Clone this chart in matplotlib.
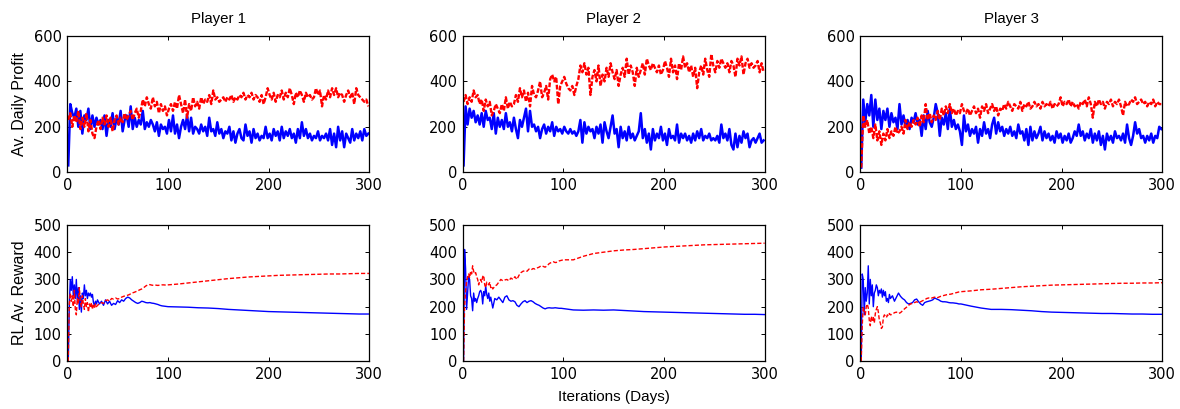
import numpy as np
import matplotlib
matplotlib.use("Agg")
import matplotlib.pyplot as plt

plt.rcParams['font.family'] = ['Liberation Sans', 'DejaVu Sans']
plt.rcParams['font.size'] = 10

# daily profit, sampled every other day
days = list(range(1, 300, 2))

profit_p1_solid = [30, 300, 260, 240, 280, 200, 270, 170, 250, 230, 280, 190, 250, 200, 240, 210, 230, 190, 250, 160,
                   230, 200, 260, 190, 240, 210, 270, 180, 230, 250, 200, 290, 190, 240, 200, 230, 210, 270, 190, 220,
                   200, 230, 210, 180, 220, 160, 210, 190, 200, 170, 230, 180, 250, 170, 210, 150, 200, 230, 190, 250,
                   180, 240, 170, 200, 190, 170, 210, 180, 200, 160, 240, 180, 190, 160, 220, 170, 190, 150, 180, 170,
                   200, 140, 180, 130, 170, 190, 150, 140, 210, 160, 180, 130, 190, 150, 170, 140, 160, 150, 200, 150,
                   170, 140, 190, 160, 180, 140, 200, 150, 180, 160, 190, 150, 170, 130, 190, 150, 220, 160, 190, 150,
                   170, 140, 160, 150, 180, 140, 160, 150, 170, 140, 190, 120, 170, 110, 200, 140, 180, 110, 170, 150,
                   130, 190, 140, 170, 150, 180, 140, 190, 160, 170]
profit_p1_dotted = [230, 260, 200, 250, 220, 270, 190, 240, 200, 260, 180, 230, 170, 150, 200, 230, 190, 240, 210, 250,
                    200, 240, 180, 230, 250, 210, 240, 220, 260, 230, 250, 270, 230, 260, 280, 240, 270, 320, 290, 330,
                    300, 280, 330, 290, 310, 260, 300, 270, 290, 250, 280, 300, 270, 310, 280, 340, 300, 260, 320, 240,
                    300, 270, 330, 290, 310, 280, 330, 300, 320, 310, 340, 300, 360, 320, 330, 310, 320, 330, 310, 330,
                    320, 340, 310, 330, 320, 340, 330, 350, 320, 340, 330, 350, 320, 340, 330, 310, 340, 300, 330, 370,
                    340, 320, 350, 310, 340, 330, 360, 320, 350, 330, 370, 340, 300, 350, 330, 360, 340, 310, 350, 330,
                    340, 320, 330, 370, 340, 360, 290, 340, 320, 360, 330, 370, 340, 370, 330, 350, 340, 310, 340, 360,
                    330, 350, 300, 370, 340, 330, 320, 310, 320, 290]

profit_p2_solid = [30, 290, 210, 280, 240, 270, 220, 250, 210, 260, 200, 270, 230, 240, 190, 260, 170, 240, 200, 230,
                   190, 260, 200, 220, 180, 240, 190, 150, 230, 200, 240, 280, 180, 270, 200, 210, 180, 200, 150, 190,
                   210, 170, 200, 180, 220, 160, 200, 180, 190, 170, 200, 180, 170, 190, 170, 180, 160, 180, 230, 130,
                   220, 170, 200, 180, 190, 150, 200, 170, 210, 130, 220, 180, 150, 200, 250, 170, 190, 110, 200, 150,
                   180, 140, 200, 150, 170, 140, 160, 180, 260, 150, 190, 130, 170, 100, 190, 140, 170, 150, 200, 140,
                   170, 120, 190, 150, 160, 140, 210, 130, 170, 150, 170, 140, 160, 130, 170, 140, 180, 150, 190, 140,
                   160, 150, 170, 140, 150, 140, 160, 130, 210, 150, 170, 140, 190, 120, 100, 170, 110, 160, 130, 180,
                   150, 170, 110, 140, 150, 130, 150, 170, 130, 140]
profit_p2_dotted = [310, 340, 300, 330, 310, 360, 330, 340, 300, 320, 270, 320, 290, 310, 250, 270, 300, 280, 260, 300,
                    270, 330, 280, 310, 290, 300, 340, 310, 370, 330, 360, 310, 350, 290, 380, 340, 330, 360, 400, 330,
                    350, 380, 320, 410, 430, 400, 420, 300, 380, 400, 420, 390, 370, 360, 380, 340, 380, 410, 470, 440,
                    480, 430, 460, 340, 420, 450, 400, 470, 380, 430, 400, 460, 420, 480, 440, 410, 450, 380, 430, 460,
                    420, 500, 430, 470, 440, 380, 460, 420, 450, 480, 430, 500, 470, 450, 480, 460, 440, 470, 430, 450,
                    490, 460, 420, 500, 440, 470, 410, 480, 450, 510, 460, 480, 440, 470, 420, 460, 370, 440, 470, 430,
                    500, 450, 420, 520, 470, 440, 490, 460, 500, 480, 460, 480, 440, 490, 470, 420, 500, 470, 510, 430,
                    480, 500, 460, 480, 460, 470, 490, 440, 480, 440]

profit_p3_solid = [20, 320, 220, 300, 250, 340, 200, 320, 230, 280, 190, 270, 230, 280, 200, 260, 220, 240, 190, 300,
                   210, 250, 200, 230, 190, 240, 220, 260, 210, 230, 160, 250, 190, 270, 220, 200, 240, 300, 260, 160,
                   240, 210, 260, 190, 280, 200, 230, 190, 210, 180, 120, 250, 180, 210, 160, 190, 170, 200, 130, 190,
                   160, 220, 170, 190, 150, 210, 240, 170, 220, 180, 200, 160, 190, 170, 200, 160, 180, 150, 210, 170,
                   180, 140, 190, 120, 200, 140, 180, 150, 170, 200, 140, 180, 150, 170, 140, 160, 130, 180, 150, 170,
                   130, 160, 140, 170, 130, 150, 180, 160, 210, 160, 180, 140, 170, 150, 190, 130, 170, 140, 180, 120,
                   160, 100, 170, 140, 160, 130, 180, 150, 160, 140, 170, 130, 210, 150, 120, 160, 220, 170, 190, 150,
                   160, 130, 160, 140, 170, 130, 160, 150, 200, 190]
profit_p3_dotted = [20, 250, 200, 230, 170, 200, 150, 210, 140, 180, 120, 170, 140, 190, 150, 180, 160, 200, 170, 180,
                    200, 170, 230, 190, 220, 200, 230, 210, 240, 200, 250, 220, 300, 230, 260, 220, 250, 230, 270, 230,
                    280, 250, 290, 260, 300, 260, 280, 250, 270, 260, 300, 270, 260, 280, 250, 270, 290, 260, 280, 240,
                    290, 270, 300, 260, 280, 300, 270, 290, 250, 280, 270, 300, 280, 310, 290, 270, 300, 290, 280, 310,
                    270, 300, 290, 310, 280, 290, 310, 290, 300, 280, 310, 290, 300, 290, 310, 280, 300, 290, 300, 330,
                    290, 310, 300, 320, 290, 310, 290, 300, 280, 310, 300, 320, 290, 330, 300, 240, 310, 290, 320, 300,
                    310, 280, 310, 300, 320, 290, 310, 300, 320, 290, 250, 310, 290, 300, 320, 310, 330, 300, 310, 320,
                    300, 310, 290, 310, 300, 320, 290, 310, 300, 300]

# running RL reward, denser at the start where it swings
reward_days = list(range(1, 31)) + list(range(32, 101, 2)) + list(range(110, 301, 10))

reward_p1_solid = [0, 200, 300, 260, 310, 240, 280, 230, 300, 220, 270, 190, 240, 180, 250, 230, 280, 240, 260, 230,
                   250, 240, 250, 235, 245, 215, 205, 220, 210, 225,
                   210, 220, 205, 225, 210, 220, 205, 212, 208, 222, 215, 225, 220, 230, 235, 232, 225, 220, 215, 212,
                   215, 220, 218, 215, 214, 215, 213, 212, 210, 208, 205, 203, 202, 201, 200,
                   199, 198, 196, 195, 193, 190, 188, 186, 184, 182, 181, 180, 179, 178, 177, 176, 175, 174, 173, 173]
reward_p1_dashed = [0, 210, 250, 220, 240, 200, 260, 190, 170, 230, 210, 270, 220, 200, 240, 210, 190, 230, 200, 215,
                    180, 210, 195, 215, 190, 205, 195, 210, 200, 205,
                    210, 215, 212, 222, 225, 220, 230, 228, 232, 228, 230, 235, 238, 240, 242, 245, 250, 252, 255, 258,
                    262, 265, 270, 276, 280, 281, 279, 278, 279, 278, 279, 280, 280, 279, 280,
                    283, 287, 291, 295, 299, 303, 306, 309, 311, 313, 315, 316, 317, 318, 319, 320, 320, 321, 322, 322]

reward_p2_solid = [0, 410, 340, 190, 250, 310, 300, 240, 230, 185, 250, 220, 230, 215, 230, 240, 255, 260, 250, 210,
                   255, 240, 275, 245, 230, 250, 220, 235, 215, 195,
                   230, 225, 235, 225, 215, 235, 240, 225, 220, 222, 218, 205, 200, 210, 218, 222, 215, 220, 222, 218,
                   212, 208, 205, 200, 195, 192, 195, 196, 195, 195, 196, 195, 194, 194, 193,
                   188, 187, 188, 187, 188, 186, 184, 182, 181, 180, 179, 178, 177, 176, 175, 174, 173, 172, 172, 171]
reward_p2_dashed = [0, 200, 260, 290, 310, 320, 305, 330, 320, 350, 330, 320, 325, 310, 300, 280, 295, 300, 290, 310,
                    315, 280, 270, 290, 285, 280, 290, 270, 275, 265,
                    275, 280, 290, 300, 295, 298, 300, 295, 305, 300, 310, 300, 315, 325, 330, 332, 330, 338, 335, 340,
                    338, 342, 345, 350, 348, 345, 350, 358, 362, 365, 362, 363, 368, 370, 372,
                    372, 385, 395, 400, 405, 408, 410, 413, 416, 419, 421, 423, 425, 427, 428, 429, 430, 431, 432, 433]

reward_p3_solid = [0, 320, 300, 170, 270, 220, 250, 350, 210, 300, 240, 280, 200, 250, 260, 280, 270, 240, 260, 250,
                   265, 235, 260, 240, 255, 220, 230, 215, 245, 230,
                   240, 220, 235, 250, 238, 230, 225, 215, 210, 212, 215, 225, 228, 218, 210, 205, 215, 218, 220, 222,
                   225, 232, 228, 225, 220, 218, 218, 217, 215, 214, 214, 213, 212, 210, 210,
                   202, 195, 190, 190, 189, 187, 185, 182, 180, 179, 178, 177, 176, 175, 175, 174, 173, 173, 172, 172]
reward_p3_dashed = [0, 130, 200, 180, 170, 200, 210, 195, 150, 130, 165, 150, 160, 140, 175, 190, 200, 180, 150, 140,
                    120, 125, 160, 170, 165, 160, 170, 165, 175, 170,
                    172, 178, 180, 175, 178, 185, 192, 198, 205, 210, 212, 215, 218, 215, 218, 222, 225, 230, 232, 230,
                    233, 235, 232, 235, 238, 240, 242, 244, 245, 246, 248, 250, 252, 254, 255,
                    258, 262, 264, 267, 270, 273, 275, 277, 279, 280, 281, 282, 283, 284, 285, 286, 286, 287, 287, 288]

titles = ["Player 1", "Player 2", "Player 3"]
profit_solid = [profit_p1_solid, profit_p2_solid, profit_p3_solid]
profit_dotted = [profit_p1_dotted, profit_p2_dotted, profit_p3_dotted]
reward_solid = [reward_p1_solid, reward_p2_solid, reward_p3_solid]
reward_dashed = [reward_p1_dashed, reward_p2_dashed, reward_p3_dashed]

fig = plt.figure(figsize=(11.8, 4.09), dpi=100)

lefts = [0.057, 0.392, 0.729]
width = 0.256
height = 0.333


def style_axes(ax, ymax, ystep):
    ax.set_xlim(0, 300)
    ax.set_ylim(0, ymax)
    ax.set_xticks([0, 100, 200, 300])
    ax.set_yticks(np.arange(0, ymax + 1, ystep))
    ax.tick_params(direction='in', top=True, right=True, length=3, width=0.7, pad=4)
    # wider digits for the tick numbers
    for lab in ax.get_xticklabels() + ax.get_yticklabels():
        lab.set_family('DejaVu Sans')
        lab.set_fontsize(10.5)
    for s in ax.spines.values():
        s.set_linewidth(0.9)


for i in range(3):
    ax = fig.add_axes([lefts[i], 0.579, width, height])
    ax.plot(days, profit_solid[i], color='#0000ff', lw=1.8, ls='-')
    ax.plot(days, profit_dotted[i], color='#ff0000', lw=1.7, ls=(0, (2, 0.8)))
    style_axes(ax, 600, 200)
    ax.set_title(titles[i], fontsize=10.8, pad=9)
    if i == 0:
        ax.set_ylabel("Av. Daily Profit", fontsize=11.5, labelpad=5)

    ax = fig.add_axes([lefts[i], 0.117, width, height])
    ax.plot(reward_days, reward_solid[i], color='#0000ff', lw=1.0, ls='-')
    ax.plot(reward_days, reward_dashed[i], color='#ff0000', lw=1.0, ls=(0, (3, 1.5)))
    style_axes(ax, 500, 100)
    if i == 0:
        ax.set_ylabel("RL Av. Reward", fontsize=11.5, labelpad=5)
    if i == 1:
        ax.set_xlabel("Iterations (Days)", fontsize=11, labelpad=6)

fig.savefig("out.png", dpi=100)
